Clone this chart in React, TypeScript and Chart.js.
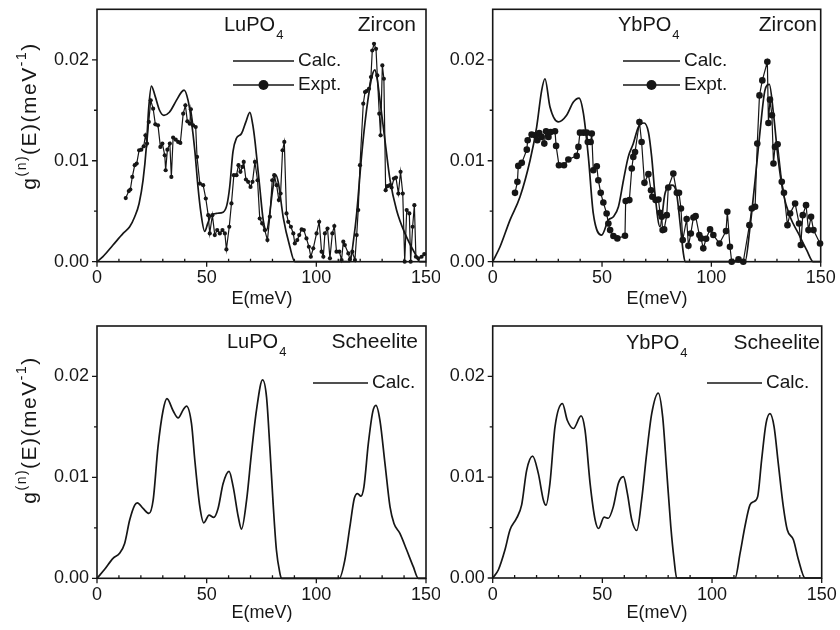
import { useEffect, useRef } from 'react';
import { Chart, registerables } from 'chart.js';

Chart.register(...registerables);

const INK = '#161616';
const FONT = '"Liberation Sans", Arial, Helvetica, sans-serif';

// ---------- LuPO4, zircon structure ----------
const luZirconCalcE = [0, 2.7, 7.3, 11.9, 14.9, 17.2, 19.2, 21.0, 22.5, 23.6, 24.8, 26.5, 28.5, 30.5, 33.0, 36.0, 38.5, 39.7, 41.5, 43.0, 44.6, 46.0, 47.4, 49.1, 50.5, 52.0, 55.0, 57.5, 59.2, 60.5, 62.0, 63.5, 65.9, 67.8, 69.7, 71.0, 72.0, 73.2, 74.2, 75.8, 77.3, 78.6, 80.0, 81.5, 82.7, 84.9, 87.9, 90.2, 115.3, 117.0, 118.4, 120.6, 122.2, 123.7, 125.4, 126.7, 127.8, 129.0, 131.3, 133.6, 136.6, 140.4, 145.0, 147.3, 150];
const luZirconCalcG = [0, 0.0005, 0.00165, 0.0028, 0.00346, 0.00445, 0.00577, 0.00807, 0.01137, 0.0153, 0.0174, 0.0164, 0.015, 0.0145, 0.0148, 0.0159, 0.0168, 0.017, 0.016, 0.014, 0.011, 0.0075, 0.0048, 0.003, 0.0038, 0.0046, 0.0048, 0.0049, 0.0056, 0.0074, 0.0109, 0.0122, 0.0127, 0.0138, 0.0148, 0.0136, 0.012, 0.0095, 0.0074, 0.0041, 0.0031, 0.0045, 0.007, 0.0086, 0.0078, 0.0044, 0.0015, 0, 0, 0.0022, 0.0048, 0.0104, 0.0138, 0.0163, 0.0184, 0.019, 0.018, 0.016, 0.012, 0.0081, 0.0051, 0.0028, 0.0008, 0, 0];
const luZirconExptE = [13.1, 14.5, 15.2, 16.1, 17.2, 18.1, 19.2, 20.2, 21.3, 22.1, 22.8, 23.6, 24.5, 25.6, 26.6, 27.8, 28.9, 29.8, 30.9, 31.3, 32.1, 33.2, 33.9, 34.7, 35.9, 37.0, 38.0, 39.3, 40.3, 41.2, 42.3, 42.8, 43.8, 45.0, 45.6, 46.9, 48.4, 49.6, 50.7, 51.4, 52.6, 53.7, 54.8, 56.0, 57.2, 58.3, 59.0, 60.3, 61.3, 62.4, 63.6, 64.5, 65.4, 66.3, 66.9, 67.9, 68.9, 70.0, 70.9, 72.0, 73.2, 74.2, 75.3, 76.5, 77.7, 78.8, 79.9, 80.8, 81.9, 82.9, 83.7, 84.6, 85.4, 86.4, 87.2, 88.4, 89.5, 90.2, 91.3, 92.2, 93.3, 94.3, 95.5, 96.6, 97.5, 98.6, 100.1, 101.3, 102.4, 103.2, 103.9, 105.1, 106.2, 107.3, 108.2, 109.2, 110.5, 111.5, 112.3, 113.0, 114.6, 115.3, 116.4, 117.6, 118.4, 119.1, 119.9, 121.4, 122.2, 122.9, 124.0, 124.9, 125.5, 126.3, 127.2, 127.8, 128.7, 129.3, 130.1, 130.8, 131.6, 132.4, 133.6, 134.3, 135.4, 136.3, 137.4, 138.4, 139.4, 140.3, 141.2, 142.4, 143.0, 143.9, 144.7, 145.4, 146.5, 148.0, 149.2];
const luZirconExptG = [0.0063, 0.007, 0.00715, 0.0084, 0.00956, 0.00972, 0.01104, 0.0111, 0.01143, 0.01252, 0.0117, 0.01384, 0.01598, 0.01516, 0.01361, 0.01351, 0.01137, 0.0117, 0.01054, 0.00906, 0.0111, 0.0117, 0.0084, 0.01229, 0.01209, 0.01186, 0.01176, 0.01466, 0.01549, 0.0139, 0.01367, 0.01509, 0.01351, 0.01334, 0.01038, 0.00774, 0.00758, 0.00626, 0.00461, 0.0028, 0.00461, 0.00264, 0.00313, 0.0028, 0.00313, 0.0028, 0.00122, 0.00346, 0.00577, 0.00857, 0.00857, 0.00956, 0.0089, 0.00939, 0.00988, 0.00814, 0.00791, 0.00741, 0.00791, 0.00988, 0.00807, 0.00428, 0.00379, 0.00313, 0.00214, 0.00445, 0.00807, 0.00857, 0.00758, 0.0061, 0.00675, 0.01104, 0.01186, 0.00478, 0.00395, 0.00346, 0.0028, 0.00181, 0.00214, 0.00264, 0.0032, 0.00313, 0.00231, 0.00148, 0.00049, 0.00132, 0.0028, 0.00395, 0.00099, 0.00049, 0.0028, 0.00329, 0.00033, 0.0028, 0.00353, 0.00099, 0.00099, 0.00016, 0.00198, 0.00165, 0.00082, 0.00023, 0.00099, 0.00016, 0.00264, 0.00511, 0.00956, 0.01565, 0.0168, 0.0169, 0.01713, 0.01829, 0.02092, 0.02158, 0.02109, 0.01845, 0.01466, 0.01252, 0.01944, 0.01812, 0.00708, 0.00748, 0.00758, 0.00735, 0.00824, 0.00834, 0.00675, 0.0089, 0.00675, 0, 0.00511, 0.00478, 0, 0.00346, 0.0056, 0.00049, 0.00033, 0.00049, 0.00076];

// ---------- YbPO4, zircon structure ----------
const ybZirconCalcE = [0, 3.35, 7.9, 12.5, 17.1, 20.1, 22.4, 23.9, 26.2, 30.0, 33.8, 36.9, 39.5, 41.5, 43.75, 46.0, 49.8, 52.9, 55.2, 57.5, 59.8, 62.0, 64.3, 66.6, 69.2, 71.2, 72.7, 74.2, 76.5, 78.8, 81.9, 84.1, 85.7, 87.2, 88.0, 115.4, 117.7, 120.0, 122.3, 124.5, 126.5, 128.4, 130.6, 132.9, 136.0, 139.8, 143.6, 146.6, 150];
const ybZirconCalcG = [0, 0.00148, 0.00412, 0.00643, 0.01005, 0.01334, 0.01697, 0.01812, 0.01532, 0.01384, 0.0145, 0.01582, 0.01621, 0.01466, 0.01038, 0.00478, 0.00264, 0.00412, 0.00445, 0.00544, 0.00807, 0.01038, 0.0117, 0.01334, 0.01374, 0.01285, 0.01038, 0.00675, 0.00346, 0.00675, 0.00758, 0.00675, 0.00379, 0.00082, 0, 0, 0.00346, 0.00807, 0.013, 0.01697, 0.01756, 0.01466, 0.01005, 0.00675, 0.00445, 0.0028, 0.00115, 0, 0];
const ybZirconExptE = [10.2, 11.3, 11.7, 13.3, 15.6, 16.0, 17.8, 19.4, 20.4, 21.3, 22.4, 23.6, 24.4, 25.5, 26.5, 28.5, 29.0, 30.3, 32.6, 34.6, 38.4, 39.2, 39.9, 41.5, 43.0, 43.5, 44.8, 45.3, 46.0, 47.6, 48.3, 49.4, 50.6, 52.1, 52.9, 53.7, 55.2, 57.0, 60.5, 60.8, 62.5, 63.6, 64.3, 65.1, 67.1, 68.1, 69.4, 71.2, 72.4, 73.0, 74.5, 75.8, 76.5, 77.3, 77.7, 78.4, 79.6, 80.3, 82.6, 84.2, 85.2, 86.1, 86.9, 88.7, 89.5, 90.6, 91.8, 92.8, 94.5, 95.3, 96.3, 97.6, 99.4, 100.9, 103.7, 106.7, 107.3, 108.5, 109.3, 112.4, 114.6, 117.4, 118.5, 120.0, 121.0, 122.0, 123.3, 125.6, 126.1, 126.8, 127.7, 128.4, 129.1, 130.3, 132.2, 133.2, 134.8, 136.0, 138.3, 140.1, 140.9, 141.8, 143.3, 144.4, 145.6, 146.7, 149.7];
const ybZirconExptG = [0.00682, 0.00791, 0.00949, 0.00979, 0.0111, 0.01203, 0.01259, 0.01252, 0.01203, 0.01275, 0.01236, 0.0117, 0.01292, 0.01236, 0.01285, 0.01292, 0.01147, 0.00956, 0.00956, 0.01012, 0.01048, 0.01137, 0.01278, 0.01278, 0.01278, 0.01186, 0.01186, 0.01269, 0.00906, 0.00946, 0.00807, 0.00682, 0.00586, 0.00478, 0.00379, 0.00313, 0.00254, 0.00231, 0.00257, 0.006, 0.0061, 0.00923, 0.01038, 0.01087, 0.01384, 0.01186, 0.00781, 0.00867, 0.00708, 0.00643, 0.0061, 0.00616, 0.00484, 0.00445, 0.00313, 0.0032, 0.00461, 0.00735, 0.00873, 0.00682, 0.00682, 0.00527, 0.00214, 0.00422, 0.00158, 0.0028, 0.00438, 0.00451, 0.00264, 0.00231, 0.00132, 0.00227, 0.0032, 0.00264, 0.00181, 0.00303, 0.00494, 0.00148, 0, 0.00023, 0, 0.00362, 0.00527, 0.00544, 0.0117, 0.01647, 0.01796, 0.0198, 0.01374, 0.01605, 0.0145, 0.00972, 0.01137, 0.01163, 0.00791, 0.00682, 0.00362, 0.00478, 0.00577, 0.00379, 0.00165, 0.00461, 0.0056, 0.00313, 0.00445, 0.00313, 0.00181];

// ---------- LuPO4, scheelite structure ----------
const luScheeliteCalcE = [0, 3.5, 7.3, 10.3, 12.6, 14.9, 17.2, 18.4, 21.0, 23.7, 25.6, 27.8, 30.1, 31.9, 34.7, 37.0, 39.3, 40.8, 43.1, 44.6, 46.9, 48.7, 51.1, 53.2, 55.2, 57.5, 60.2, 62.1, 64.4, 65.9, 68.2, 70.4, 72.7, 75.5, 77.3, 78.8, 80.3, 81.8, 83.4, 84.1, 110.5, 113.0, 115.3, 117.3, 118.8, 120.3, 121.7, 123.7, 125.7, 127.2, 129.0, 131.3, 133.6, 135.4, 138.1, 141.2, 144.2, 146.5, 150];
const luScheeliteCalcG = [0, 0.00089, 0.00198, 0.00247, 0.00346, 0.00577, 0.00725, 0.00748, 0.00692, 0.00643, 0.00774, 0.013, 0.0166, 0.0178, 0.0166, 0.0159, 0.0167, 0.01707, 0.0153, 0.0117, 0.00708, 0.0055, 0.00626, 0.00603, 0.00692, 0.00939, 0.0106, 0.00906, 0.0061, 0.00488, 0.00774, 0.01236, 0.01664, 0.01967, 0.01796, 0.013, 0.00741, 0.0028, 0.00049, 0, 0, 0.00181, 0.00511, 0.00791, 0.0084, 0.00814, 0.00906, 0.01334, 0.01647, 0.01713, 0.01565, 0.01137, 0.00708, 0.00544, 0.00445, 0.0028, 0.00115, 0, 0];

// ---------- YbPO4, scheelite structure ----------
const ybScheeliteCalcE = [0, 2.6, 5.6, 7.9, 10.9, 13.2, 15.5, 18.2, 20.8, 23.1, 24.3, 26.1, 28.4, 31.8, 34.0, 36.8, 40.3, 42.1, 44.4, 46.7, 48.3, 50.8, 52.7, 55.0, 57.3, 59.6, 61.4, 63.4, 65.7, 67.9, 70.2, 72.5, 75.5, 77.5, 79.3, 81.2, 82.7, 83.9, 110.5, 112.8, 115.0, 117.3, 119.1, 120.8, 122.6, 124.6, 126.4, 128.3, 130.2, 132.5, 134.3, 137.1, 139.4, 142.4, 150];
const ybScheeliteCalcG = [0, 0.00082, 0.0028, 0.00478, 0.00593, 0.00725, 0.0107, 0.01209, 0.01038, 0.00774, 0.00722, 0.00939, 0.015, 0.0173, 0.01565, 0.01483, 0.01608, 0.01466, 0.00939, 0.00577, 0.00491, 0.00603, 0.00593, 0.00708, 0.00939, 0.01005, 0.0084, 0.00577, 0.00471, 0.00774, 0.01236, 0.01631, 0.01835, 0.01598, 0.0107, 0.00511, 0.00181, 0, 0, 0.00247, 0.00511, 0.00725, 0.00758, 0.00807, 0.0117, 0.01532, 0.01631, 0.015, 0.01137, 0.00708, 0.00478, 0.00379, 0.00181, 0, 0];

// Axis ranges and labelled tick values
const xRange = [0, 150];
const yRange = [0, 0.025];
const xTickStep = 10;
const yTickStep = 0.005;
const xLabelValues = [0, 50, 100, 150];
const xTickLabels = ['0', '50', '100', '150'];
const yLabelValues = [0, 0.01, 0.02];
const yTickLabels = ['0.00', '0.01', '0.02'];

// Plot frame inside each canvas: left/top/right/bottom edges in canvas pixels
type Frame = { left: number; top: number; right: number; bottom: number };
type PanelSpec = {
  left: number; top: number; width: number; height: number;
  frame: Frame;
  calcE: number[]; calcG: number[];
  exptE?: number[]; exptG?: number[]; exptRadius?: number;
  compound: string; structure: string;
  compoundX: number; labelY: number; structureRight: number;
  legendX0: number; legendX1: number; legendY: number; legendGap: number;
  xTitle: { x: number; y: number };
  yTitle?: { x: number; y: number };
};

const findLabel = (v: number, values: number[], labels: string[]) => {
  const i = values.findIndex((lv) => Math.abs(lv - v) < 1e-9);
  return i >= 0 ? labels[i] : '';
};

function decorPlugin(spec: PanelSpec) {
  return {
    id: 'panelDecor',
    afterDraw(chart: any) {
      const ctx: CanvasRenderingContext2D = chart.ctx;
      const { left, right, top, bottom } = chart.chartArea;
      const xs = chart.scales.x;
      const ys = chart.scales.y;
      ctx.save();
      ctx.strokeStyle = INK;
      ctx.fillStyle = INK;

      // frame
      ctx.lineWidth = 1.6;
      ctx.strokeRect(left, top, right - left, bottom - top);

      // tick marks: majors outside, minor x ticks inside
      ctx.lineWidth = 1.3;
      ctx.beginPath();
      xs.ticks.forEach((t: any) => {
        const px = xs.getPixelForValue(t.value);
        const major = findLabel(t.value, xLabelValues, xTickLabels) !== '';
        ctx.moveTo(px, bottom);
        ctx.lineTo(px, major ? bottom + 5 : bottom - 3);
      });
      ys.ticks.forEach((t: any) => {
        if (t.value >= yRange[1] - 1e-9) return;
        const py = ys.getPixelForValue(t.value);
        const major = findLabel(t.value, yLabelValues, yTickLabels) !== '';
        ctx.moveTo(left, py);
        ctx.lineTo(left - (major ? 5 : 3), py);
      });
      ctx.stroke();

      // compound and structure labels
      ctx.textBaseline = 'middle';
      ctx.textAlign = 'left';
      ctx.font = `20px ${FONT}`;
      ctx.fillText(spec.compound, spec.compoundX, spec.labelY);
      const w = ctx.measureText(spec.compound).width;
      ctx.font = `13px ${FONT}`;
      ctx.fillText('4', spec.compoundX + w + 1, spec.labelY + 10);
      ctx.font = `21px ${FONT}`;
      ctx.textAlign = 'right';
      ctx.fillText(spec.structure, spec.structureRight, spec.labelY);

      // legend
      ctx.textAlign = 'left';
      ctx.font = `19px ${FONT}`;
      ctx.lineWidth = 1.7;
      ctx.beginPath();
      ctx.moveTo(spec.legendX0, spec.legendY);
      ctx.lineTo(spec.legendX1, spec.legendY);
      ctx.stroke();
      ctx.fillText('Calc.', spec.legendX1 + 4, spec.legendY);
      if (spec.exptE) {
        const y2 = spec.legendY + spec.legendGap;
        ctx.lineWidth = 1.3;
        ctx.beginPath();
        ctx.moveTo(spec.legendX0, y2);
        ctx.lineTo(spec.legendX1, y2);
        ctx.stroke();
        ctx.beginPath();
        ctx.arc((spec.legendX0 + spec.legendX1) / 2, y2, 5, 0, Math.PI * 2);
        ctx.fill();
        ctx.fillText('Expt.', spec.legendX1 + 4, y2);
      }

      // x axis title
      ctx.font = `18px ${FONT}`;
      ctx.textAlign = 'center';
      ctx.fillText('E(meV)', spec.xTitle.x, spec.xTitle.y);

      // y axis title with superscripts
      if (spec.yTitle) {
        const parts = [
          { t: 'g', sup: false },
          { t: '(n)', sup: true },
          { t: '(E)(meV', sup: false },
          { t: '-1', sup: true },
          { t: ')', sup: false },
        ];
        const fontOf = (sup: boolean) => (sup ? `14px ${FONT}` : `21px ${FONT}`);
        const spacing = 1.5;
        let total = 0;
        const widths = parts.map((p) => {
          ctx.font = fontOf(p.sup);
          const pw = ctx.measureText(p.t).width + spacing * p.t.length;
          total += pw;
          return pw;
        });
        ctx.translate(spec.yTitle.x, spec.yTitle.y);
        ctx.rotate(-Math.PI / 2);
        ctx.textAlign = 'left';
        let cx = -total / 2;
        parts.forEach((p, i) => {
          ctx.font = fontOf(p.sup);
          // draw glyph by glyph with a little extra tracking
          let gx = cx;
          for (const ch of p.t) {
            ctx.fillText(ch, gx, p.sup ? -8 : 0);
            gx += ctx.measureText(ch).width + spacing;
          }
          cx += widths[i];
        });
      }
      ctx.restore();
    },
  };
}

function Panel({ spec }: { spec: PanelSpec }) {
  const ref = useRef<HTMLCanvasElement>(null);
  useEffect(() => {
    const canvas = ref.current;
    if (!canvas) return;
    const f = spec.frame;
    const datasets: any[] = [
      {
        label: 'Calc.',
        data: spec.calcE.map((e, i) => ({ x: e, y: spec.calcG[i] })),
        borderColor: INK,
        borderWidth: 1.7,
        pointRadius: 0,
        cubicInterpolationMode: 'monotone',
        fill: false,
        clip: false,
      },
    ];
    if (spec.exptE && spec.exptG) {
      const g = spec.exptG;
      datasets.push({
        label: 'Expt.',
        data: spec.exptE.map((e, i) => ({ x: e, y: g[i] })),
        borderColor: INK,
        backgroundColor: INK,
        borderWidth: 1.2,
        pointRadius: spec.exptRadius ?? 2,
        pointBorderWidth: 0,
        pointBackgroundColor: INK,
        tension: 0,
        fill: false,
        clip: false,
      });
    }
    const tickFont = { family: FONT, size: 18, lineHeight: 1.2 };
    const chart = new Chart(canvas, {
      type: 'line',
      data: { datasets },
      options: {
        animation: false,
        responsive: false,
        maintainAspectRatio: false,
        devicePixelRatio: 1,
        layout: { padding: { left: 0, top: f.top, right: spec.width - f.right, bottom: 0 } },
        plugins: { legend: { display: false }, tooltip: { enabled: false } },
        scales: {
          x: {
            type: 'linear',
            min: xRange[0],
            max: xRange[1],
            afterFit: (s: any) => {
              s.height = spec.height - f.bottom;
              s.paddingLeft = 0;
              s.paddingRight = 0;
            },
            grid: { display: false, drawTicks: false },
            border: { display: false },
            ticks: {
              stepSize: xTickStep,
              autoSkip: false,
              maxRotation: 0,
              padding: 6,
              color: INK,
              font: tickFont,
              callback: (v: any) => findLabel(Number(v), xLabelValues, xTickLabels),
            },
          },
          y: {
            type: 'linear',
            min: yRange[0],
            max: yRange[1],
            afterFit: (s: any) => {
              s.width = f.left;
              s.paddingTop = 0;
              s.paddingBottom = 0;
            },
            grid: { display: false, drawTicks: false },
            border: { display: false },
            ticks: {
              stepSize: yTickStep,
              autoSkip: false,
              padding: 8,
              color: INK,
              font: tickFont,
              callback: (v: any) => findLabel(Number(v), yLabelValues, yTickLabels),
            },
          },
        },
      } as any,
      plugins: [decorPlugin(spec)],
    });
    return () => chart.destroy();
  }, [spec]);
  return (
    <canvas
      ref={ref}
      width={spec.width}
      height={spec.height}
      style={{ position: 'absolute', left: spec.left, top: spec.top, width: spec.width, height: spec.height }}
    />
  );
}

const panels: PanelSpec[] = [
  {
    left: 0, top: 0, width: 440, height: 315,
    frame: { left: 97, top: 9.3, right: 426, bottom: 261.7 },
    calcE: luZirconCalcE, calcG: luZirconCalcG,
    exptE: luZirconExptE, exptG: luZirconExptG, exptRadius: 2.1,
    compound: 'LuPO', structure: 'Zircon',
    compoundX: 224, labelY: 25, structureRight: 416,
    legendX0: 233, legendX1: 294, legendY: 61, legendGap: 24,
    xTitle: { x: 262, y: 299 },
    yTitle: { x: 30, y: 116 },
  },
  {
    left: 440, top: 0, width: 400, height: 315,
    frame: { left: 52.7, top: 9.3, right: 380.7, bottom: 261.7 },
    calcE: ybZirconCalcE, calcG: ybZirconCalcG,
    exptE: ybZirconExptE, exptG: ybZirconExptG, exptRadius: 3.3,
    compound: 'YbPO', structure: 'Zircon',
    compoundX: 178, labelY: 25, structureRight: 377,
    legendX0: 183, legendX1: 240, legendY: 61, legendGap: 24,
    xTitle: { x: 217, y: 299 },
  },
  {
    left: 0, top: 315, width: 440, height: 315,
    frame: { left: 97, top: 11, right: 426, bottom: 263.3 },
    calcE: luScheeliteCalcE, calcG: luScheeliteCalcG,
    compound: 'LuPO', structure: 'Scheelite',
    compoundX: 227, labelY: 27, structureRight: 418,
    legendX0: 313, legendX1: 368, legendY: 68, legendGap: 24,
    xTitle: { x: 262, y: 298 },
    yTitle: { x: 30, y: 115 },
  },
  {
    left: 440, top: 315, width: 400, height: 315,
    frame: { left: 52.7, top: 11, right: 381.7, bottom: 263 },
    calcE: ybScheeliteCalcE, calcG: ybScheeliteCalcG,
    compound: 'YbPO', structure: 'Scheelite',
    compoundX: 186, labelY: 28, structureRight: 380,
    legendX0: 267, legendX1: 322, legendY: 68, legendGap: 24,
    xTitle: { x: 217, y: 298 },
  },
];

export default function App() {
  return (
    <div style={{ position: 'fixed', left: 0, top: 0, width: 840, height: 630, background: '#fff' }}>
      {panels.map((p, i) => (
        <Panel key={i} spec={p} />
      ))}
    </div>
  );
}
